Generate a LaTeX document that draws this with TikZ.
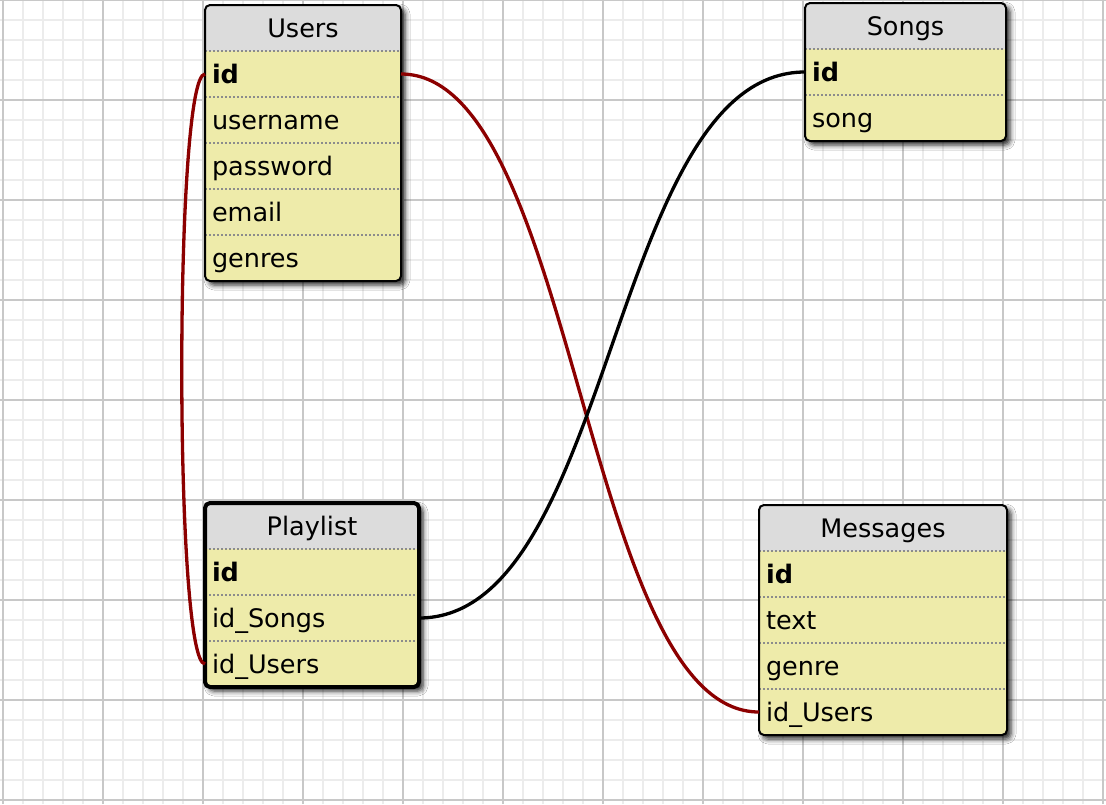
\documentclass[tikz,border=0pt]{standalone}
\usepackage{fontspec}
\setmainfont{DejaVu Sans}
\usetikzlibrary{positioning,fit,shadows.blur}

\definecolor{gridminor}{RGB}{236,236,236}
\definecolor{gridmajor}{RGB}{200,200,200}
\definecolor{headgray}{RGB}{220,220,220}
\definecolor{rowyellow}{RGB}{238,235,170}
\definecolor{sepgray}{RGB}{140,140,140}
\definecolor{linkred}{RGB}{140,0,0}

\newcommand{\tblfont}{\fontsize{25.5}{30}\selectfont}

\tikzset{
	tblhead/.style={anchor=north west, rectangle, inner sep=0pt, inner xsep=7pt, outer sep=0pt,
		text width=#1, align=center, minimum height=46pt, text height=19pt, text depth=1pt, font=\tblfont},
	tblrow/.style={tblhead=#1, align=left},
	tblkey/.style={tblrow=#1, font=\tblfont\bfseries},
	tblbox/.style={draw=black, line width=2pt, rounded corners=5pt, inner sep=0pt, outer sep=0pt},
	tblfill/.style={fill=rowyellow, rounded corners=5pt,
		blur shadow={shadow xshift=4pt, shadow yshift=-4pt, shadow blur radius=5pt, shadow opacity=85}},
	tblsep/.style={draw=sepgray, line width=1.5pt, dash pattern=on 1.5pt off 2.5pt},
	fklink/.style={line width=3.3pt},
}

\begin{document}
\begin{tikzpicture}[x=1pt, y=-1pt]
	\useasboundingbox (0,0) rectangle (1106,804);

	% grid paper
	\fill[white] (0,0) rectangle (1106,804);
	\foreach \gx in {3,23,...,1103} \draw[gridminor, line width=2pt] (\gx,0) -- (\gx,804);
	\foreach \gy in {0,20,...,800} \draw[gridminor, line width=2pt] (0,\gy) -- (1106,\gy);
	\foreach \gx in {3,103,...,1103} \draw[gridmajor, line width=2pt] (\gx,0) -- (\gx,804);
	\foreach \gy in {0,100,...,800} \draw[gridmajor, line width=2pt] (0,\gy) -- (1106,\gy);

	% Users
	\path[tblfill] (205,5) rectangle (401,281);
	\begin{scope}
		\clip[rounded corners=5pt] (205,5) rectangle (401,281);
		\fill[headgray] (205,5) rectangle (401,51);
	\end{scope}
	\node[tblhead=182pt] (users-head) at (205,5) {Users};
	\node[tblkey=182pt, below=0pt of users-head] (users-id) {id};
	\node[tblrow=182pt, below=0pt of users-id] (users-username) {username};
	\node[tblrow=182pt, below=0pt of users-username] (users-password) {password};
	\node[tblrow=182pt, below=0pt of users-password] (users-email) {email};
	\node[tblrow=182pt, below=0pt of users-email] (users-genres) {genres};
	\draw[tblsep]
		(users-id.north west) -- (users-id.north east)
		(users-username.north west) -- (users-username.north east)
		(users-password.north west) -- (users-password.north east)
		(users-email.north west) -- (users-email.north east)
		(users-genres.north west) -- (users-genres.north east)
		;
	\node[tblbox, fit=(users-head)(users-genres)] (users) {};

	% Songs
	\path[tblfill] (805,3) rectangle (1006,141);
	\begin{scope}
		\clip[rounded corners=5pt] (805,3) rectangle (1006,141);
		\fill[headgray] (805,3) rectangle (1006,49);
	\end{scope}
	\node[tblhead=187pt] (songs-head) at (805,3) {Songs};
	\node[tblkey=187pt, below=0pt of songs-head] (songs-id) {id};
	\node[tblrow=187pt, below=0pt of songs-id] (songs-song) {song};
	\draw[tblsep]
		(songs-id.north west) -- (songs-id.north east)
		(songs-song.north west) -- (songs-song.north east)
		;
	\node[tblbox, fit=(songs-head)(songs-song)] (songs) {};

	% Playlist
	\path[tblfill] (205,503) rectangle (419,687);
	\begin{scope}
		\clip[rounded corners=5pt] (205,503) rectangle (419,687);
		\fill[headgray] (205,503) rectangle (419,549);
	\end{scope}
	\node[tblhead=200pt] (playlist-head) at (205,503) {Playlist};
	\node[tblkey=200pt, below=0pt of playlist-head] (playlist-id) {id};
	\node[tblrow=200pt, below=0pt of playlist-id] (playlist-idsongs) {id\_Songs};
	\node[tblrow=200pt, below=0pt of playlist-idsongs] (playlist-idusers) {id\_Users};
	\draw[tblsep]
		(playlist-id.north west) -- (playlist-id.north east)
		(playlist-idsongs.north west) -- (playlist-idsongs.north east)
		(playlist-idusers.north west) -- (playlist-idusers.north east)
		;
	\node[tblbox, line width=4pt, fit=(playlist-head)(playlist-idusers)] (playlist) {};

	% Messages
	\path[tblfill] (759,505) rectangle (1007,735);
	\begin{scope}
		\clip[rounded corners=5pt] (759,505) rectangle (1007,735);
		\fill[headgray] (759,505) rectangle (1007,551);
	\end{scope}
	\node[tblhead=234pt] (messages-head) at (759,505) {Messages};
	\node[tblkey=234pt, below=0pt of messages-head] (messages-id) {id};
	\node[tblrow=234pt, below=0pt of messages-id] (messages-text) {text};
	\node[tblrow=234pt, below=0pt of messages-text] (messages-genre) {genre};
	\node[tblrow=234pt, below=0pt of messages-genre] (messages-idusers) {id\_Users};
	\draw[tblsep]
		(messages-id.north west) -- (messages-id.north east)
		(messages-text.north west) -- (messages-text.north east)
		(messages-genre.north west) -- (messages-genre.north east)
		(messages-idusers.north west) -- (messages-idusers.north east)
		;
	\node[tblbox, fit=(messages-head)(messages-idusers)] (messages) {};

	% relations
	\draw[fklink, linkred] (users-id.west) .. controls +(-31,0) and +(-31,0) .. (playlist-idusers.west);
	\draw[fklink, linkred] (users-id.east) .. controls +(175,0) and +(-175,0) .. (messages-idusers.west);
	\draw[fklink, black] (playlist-idsongs.east) .. controls +(195,0) and +(-195,0) .. (songs-id.west);
\end{tikzpicture}
\end{document}
